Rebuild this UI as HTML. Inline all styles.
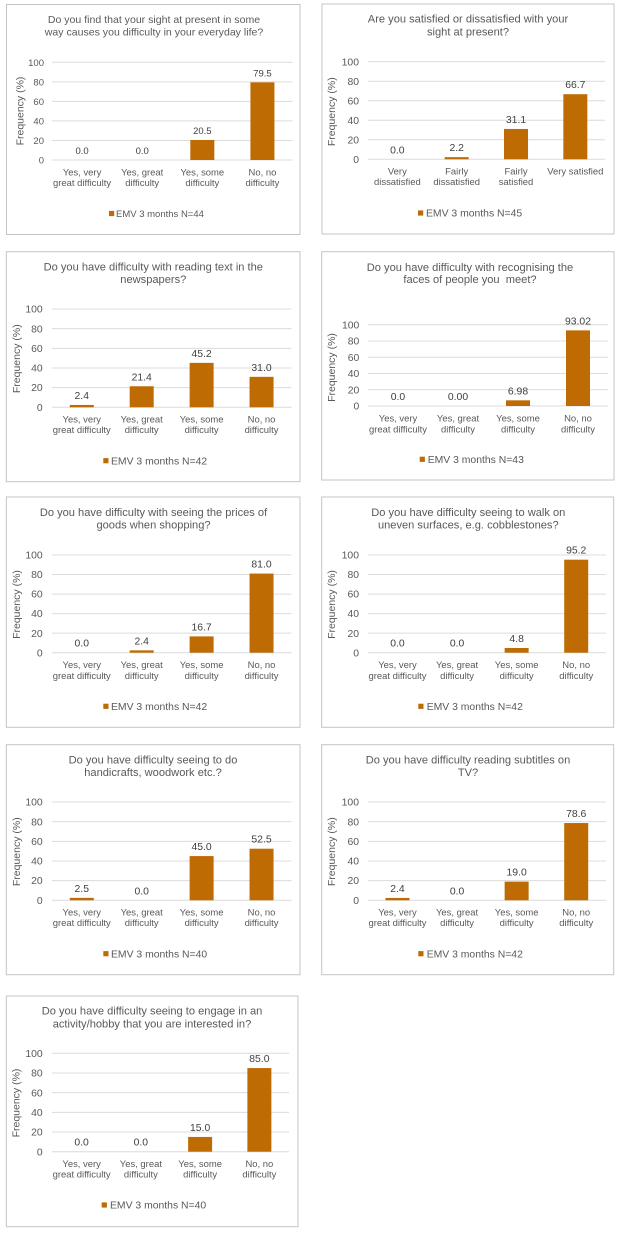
<!DOCTYPE html>
<html lang="en">
<head>
<meta charset="utf-8">
<title>Vision questionnaire results</title>
<style>
html,body{margin:0;padding:0;background:#fff;}
svg{display:block;filter:blur(0.3px);}
text{font-family:"Liberation Sans",sans-serif;}
</style>
</head>
<body>
<svg id="figure" xmlns="http://www.w3.org/2000/svg" width="621" height="1236" viewBox="0 0 621 1236"></svg>
<script>
const difficultyCategories = [["Yes, very","great difficulty"],["Yes, great","difficulty"],["Yes, some","difficulty"],["No, no","difficulty"]];
const satisfactionCategories = [["Very","dissatisfied"],["Fairly","dissatisfied"],["Fairly","satisfied"],["Very satisfied"]];
const yTicks = [0,20,40,60,80,100];

const chart1Title = ["Do you find that your sight at present in some","way causes you difficulty in your everyday life?"];
const chart1Values = [0,0,20.5,79.5];
const chart1Labels = ["0.0","0.0","20.5","79.5"];
const chart1Legend = "EMV 3 months N=44";

const chart2Title = ["Are you satisfied or dissatisfied with your","sight at present?"];
const chart2Values = [0,2.2,31.1,66.7];
const chart2Labels = ["0.0","2.2","31.1","66.7"];
const chart2Legend = "EMV 3 months N=45";

const chart3Title = ["Do you have difficulty with reading text in the","newspapers?"];
const chart3Values = [2.4,21.4,45.2,31.0];
const chart3Labels = ["2.4","21.4","45.2","31.0"];
const chart3Legend = "EMV 3 months N=42";

const chart4Title = ["Do you have difficulty with recognising the","faces of people you  meet?"];
const chart4Values = [0,0,6.98,93.02];
const chart4Labels = ["0.0","0.00","6.98","93.02"];
const chart4Legend = "EMV 3 months N=43";

const chart5Title = ["Do you have difficulty with seeing the prices of","goods when shopping?"];
const chart5Values = [0,2.4,16.7,81.0];
const chart5Labels = ["0.0","2.4","16.7","81.0"];
const chart5Legend = "EMV 3 months N=42";

const chart6Title = ["Do you have difficulty seeing to walk on","uneven surfaces, e.g. cobblestones?"];
const chart6Values = [0,0,4.8,95.2];
const chart6Labels = ["0.0","0.0","4.8","95.2"];
const chart6Legend = "EMV 3 months N=42";

const chart7Title = ["Do you have difficulty seeing to do","handicrafts, woodwork etc.?"];
const chart7Values = [2.5,0,45.0,52.5];
const chart7Labels = ["2.5","0.0","45.0","52.5"];
const chart7Legend = "EMV 3 months N=40";

const chart8Title = ["Do you have difficulty reading subtitles on","TV?"];
const chart8Values = [2.4,0,19.0,78.6];
const chart8Labels = ["2.4","0.0","19.0","78.6"];
const chart8Legend = "EMV 3 months N=42";

const chart9Title = ["Do you have difficulty seeing to engage in an","activity/hobby that you are interested in?"];
const chart9Values = [0,0,15.0,85.0];
const chart9Labels = ["0.0","0.0","15.0","85.0"];
const chart9Legend = "EMV 3 months N=40";

const charts = [
 {title:chart1Title,values:chart1Values,labels:chart1Labels,legend:chart1Legend,cats:difficultyCategories,
  box:[6.5,4.5,300,234.5],L:52,R:292.5,y100:62.3,y0:160,tickR:44,yt:[20,111],tt:[154,23,35.7],cat:[175.3,186],lg:[109,116,213.5],fs:9.5,tfs:10.55},
 {title:chart2Title,values:chart2Values,labels:chart2Labels,legend:chart2Legend,cats:satisfactionCategories,
  box:[322,4,614,234],L:367.7,R:605,y100:61.7,y0:159.3,tickR:359,yt:[331.7,111.7],tt:[468,22.5,35.5],cat:[174.5,185.2],lg:[418,426,213],fs:10.4,tfs:11.1},
 {title:chart3Title,values:chart3Values,labels:chart3Labels,legend:chart3Legend,cats:difficultyCategories,
  box:[6.3,251.7,300,481.7],L:51.8,R:291.5,y100:309,y0:407.3,tickR:42.7,yt:[16.7,358.7],tt:[153.3,270.5,283.2],cat:[422.5,433.2],lg:[103.3,111,460.7],fs:10.4,tfs:11.1},
 {title:chart4Title,values:chart4Values,labels:chart4Labels,legend:chart4Legend,cats:difficultyCategories,
  box:[321.7,251.7,614,480],L:368,R:608,y100:324.7,y0:406,tickR:359.3,yt:[331.7,367.5],tt:[470,271,283.2],cat:[421.5,432.5],lg:[419.7,427.7,459.3],fs:10.4,tfs:11.1},
 {title:chart5Title,values:chart5Values,labels:chart5Labels,legend:chart5Legend,cats:difficultyCategories,
  box:[6.3,497,300,727.3],L:51.8,R:291.5,y100:555,y0:652.7,tickR:42.7,yt:[16.7,604.5],tt:[153.5,516,528.7],cat:[668.2,678.8],lg:[103.3,111,706.3],fs:10.4,tfs:11.1},
 {title:chart6Title,values:chart6Values,labels:chart6Labels,legend:chart6Legend,cats:difficultyCategories,
  box:[321.7,497,613.7,727.3],L:367.7,R:606,y100:555,y0:652.7,tickR:359,yt:[331.7,604.5],tt:[468.3,516,528.7],cat:[668.2,678.8],lg:[418.3,426.7,706.3],fs:10.4,tfs:11.1},
 {title:chart7Title,values:chart7Values,labels:chart7Labels,legend:chart7Legend,cats:difficultyCategories,
  box:[6.3,744.7,300,974.7],L:51.8,R:291.5,y100:802,y0:900.3,tickR:42.7,yt:[16.7,851.7],tt:[153,763.4,776],cat:[915.5,926.2],lg:[103.3,111,953.7],fs:10.4,tfs:11.1},
 {title:chart8Title,values:chart8Values,labels:chart8Labels,legend:chart8Legend,cats:difficultyCategories,
  box:[321.7,744.7,613.7,974.7],L:367.7,R:606,y100:802,y0:900.3,tickR:359,yt:[331.7,851.7],tt:[468,763.4,776],cat:[915.5,926.2],lg:[418.3,426.7,953.7],fs:10.4,tfs:11.1},
 {title:chart9Title,values:chart9Values,labels:chart9Labels,legend:chart9Legend,cats:difficultyCategories,
  box:[6.3,996,298,1226.7],L:52,R:289,y100:1053.3,y0:1151.7,tickR:42.7,yt:[16,1103],tt:[152,1014.7,1027.7],cat:[1166.8,1177.5],lg:[101.7,110,1205],fs:10.4,tfs:11.1}
];

const svgNS = "http://www.w3.org/2000/svg";
const figure = document.getElementById("figure");

function make(parent, tag, attrs, content) {
  const el = document.createElementNS(svgNS, tag);
  for (const k in attrs) el.setAttribute(k, attrs[k]);
  if (content !== undefined) el.textContent = content;
  parent.appendChild(el);
  return el;
}

function drawChart(c, idx) {
  const yScale = v => c.y0 + (c.y100 - c.y0) * v / 100;
  const band = (c.R - c.L) / c.values.length;
  const xScale = i => c.L + band * (i + 0.5);
  const barWidth = 24;

  const g = make(figure, "g", {});
  
  

  const frame = make(g, "rect", {x:c.box[0], y:c.box[1], width:c.box[2]-c.box[0], height:c.box[3]-c.box[1], fill:"#fff", stroke:"#c4c4c4", "stroke-width":1});
  
  

  c.title.forEach((line, i) => {
    const t = make(g, "text", {x:c.tt[0], y:c.tt[1+i], "text-anchor":"middle", "font-size":c.tfs, fill:"#595959", style:"white-space:pre"}, line);
    
    
  });

  yTicks.forEach(v => {
    const line = make(g, "line", {x1:c.L, x2:c.R, y1:yScale(v), y2:yScale(v), stroke:"#dcdcdc", "stroke-width":1});
    
    
    const t = make(g, "text", {x:c.tickR, y:yScale(v)+3.6, "text-anchor":"end", "font-size":c.fs, fill:"#595959"}, String(v));
    
    
  });

  const yTitle = make(g, "text", {transform:"translate("+c.yt[0]+","+c.yt[1]+") rotate(-90)", x:0, y:3.5, "text-anchor":"middle", "font-size":10.5, fill:"#595959"}, "Frequency (%)");
  
  

  c.values.forEach((v, i) => {
    const top = yScale(v);
    const bar = make(g, "rect", {x:xScale(i)-barWidth/2, y:top, width:barWidth, height:c.y0-top, fill:"#bf6b04"});
    
    
    const val = make(g, "text", {x:xScale(i), y:top-6, "text-anchor":"middle", "font-size":c.fs, fill:"#404040"}, c.labels[i]);
    
    
    c.cats[i].forEach((line, j) => {
      const t = make(g, "text", {x:xScale(i), y:c.cat[j], "text-anchor":"middle", "font-size":9.45, fill:"#595959"}, line);
      
      
    });
  });

  const swatch = make(g, "rect", {x:c.lg[0], y:c.lg[2]-2.6, width:5.2, height:5.2, fill:"#bf6b04"});
  
  
  const lg = make(g, "text", {x:c.lg[1], y:c.lg[2]+3.6, "font-size":c.fs, fill:"#595959"}, c.legend);
  
  
}

charts.forEach(drawChart);
</script>
</body>
</html>
